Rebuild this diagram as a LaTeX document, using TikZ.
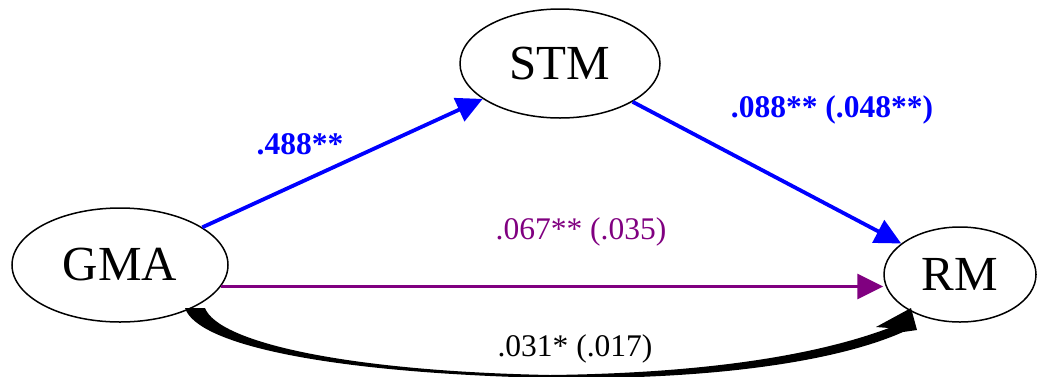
\documentclass[tikz,border=0pt]{standalone}
\usepackage{fontspec}
\setmainfont{Liberation Serif}
\usetikzlibrary{arrows.meta,shapes.geometric}
\definecolor{pathpurple}{RGB}{128,0,128}

\begin{document}
\begin{tikzpicture}[x=0.5pt,y=-0.5pt,>={Triangle[length=13pt,width=12.5pt]},
      var node/.style={ellipse,draw,line width=0.75pt,inner sep=0pt,font=\fontsize{24.5}{28}\selectfont},
      coef/.style={inner sep=0pt,font=\fontsize{15.75}{18}\selectfont},
      sig coef/.style={coef,text=blue,font=\fontsize{15.75}{18}\selectfont\bfseries},
      blue path/.style={->,draw=blue,line width=1.9pt},
      purple path/.style={->,draw=pathpurple,line width=1.5pt}]
      \useasboundingbox (0,0) rectangle (1037,376);

      \node[var node,minimum width=100pt,minimum height=54.5pt] (stm) at (560,63.5) {STM};
      \node[var node,minimum width=108pt,minimum height=57pt] (gma) at (120,265) {GMA};
      \node[var node,minimum width=76pt,minimum height=47.5pt] (rm) at (960,274.5) {RM};

      \draw[blue path] (gma) -- (stm);
      \draw[blue path] (stm) -- (rm);
      \draw[purple path] (gma.-12.5) -- (rm.west |- gma.-12.5);

      % tapered total effect
      \fill[black] (185,308) .. controls (197,345) and (330,373) .. (550,378)
        .. controls (720,380) and (840,360) .. (903,332)
        -- (917,330) -- (911,308) -- (876,327) -- (889,328)
        .. controls (825,352) and (720,373) .. (550,375)
        .. controls (345,371) and (218,342) .. (205,308) -- cycle;

      \node[sig coef] (a) at (300,144) {.488**};
      \node[sig coef] (b) at (832,110) {.088** (.048**)};
      \node[coef,text=pathpurple] (c) at (581,232) {.067** (.035)};
      \node[coef] (cp) at (575,349) {.031* (.017)};
\end{tikzpicture}
\end{document}
